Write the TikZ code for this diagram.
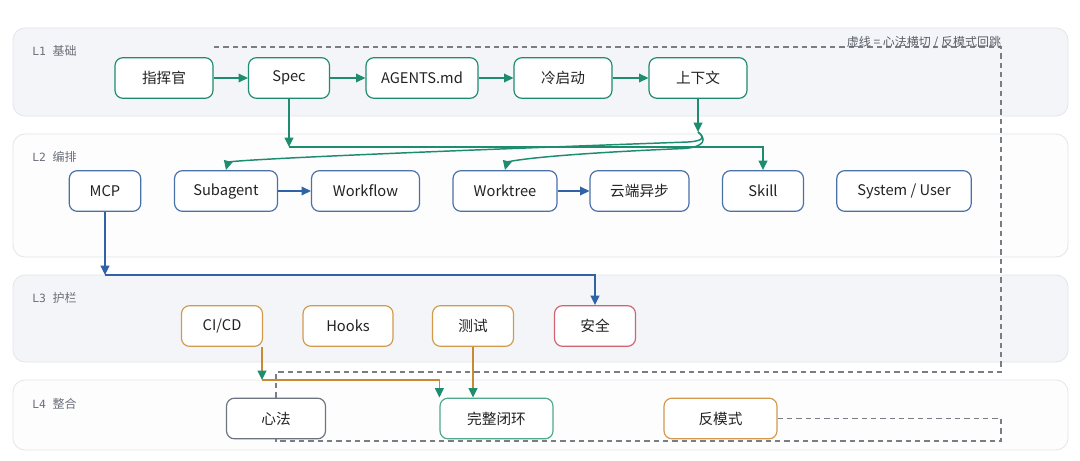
\documentclass[tikz,border=0pt]{standalone}
\usepackage{fontspec}
\setmainfont{Noto Sans CJK SC}
\newfontfamily\lanefont{DejaVu Sans Mono}
\usetikzlibrary{arrows.meta}
\definecolor{laneA}{HTML}{F3F5F8}
\definecolor{laneB}{HTML}{FDFDFE}
\definecolor{laneline}{HTML}{E2E5EA}
\definecolor{gr}{HTML}{1E8C6E}
\definecolor{bl}{HTML}{2F62A6}
\definecolor{bln}{HTML}{4A70A8}
\definecolor{og}{HTML}{C98B32}
\definecolor{ogn}{HTML}{D39A4E}
\definecolor{rd}{HTML}{D26472}
\definecolor{gy}{HTML}{6E7380}
\definecolor{gn2}{HTML}{4FAA8C}
\definecolor{dsh}{HTML}{7A7D83}
\definecolor{txt}{HTML}{222222}
\definecolor{lbl}{HTML}{6B6F78}
\definecolor{legendc}{HTML}{5A5E66}
\begin{document}
\begin{tikzpicture}[x=0.75pt,y=-0.75pt,
  lane/.style={draw=laneline, line width=0.6pt, rounded corners=9pt},
  box/.style={draw, fill=white, rounded corners=6pt, line width=0.9pt,
    minimum height=30.5pt, inner sep=0pt, text=txt,
    font=\fontsize{11}{12}\selectfont},
  wd/.style={minimum width=#1*0.75pt},
  gbox/.style={box, draw=gr},
  bbox/.style={box, draw=bln},
  obox/.style={box, draw=ogn},
  rbox/.style={box, draw=rd},
  gybox/.style={box, draw=gy},
  g2box/.style={box, draw=gn2},
  lanelabel/.style={anchor=west, text=lbl, inner sep=0pt, font=\fontsize{9}{10}\selectfont},
  arr/.style={-{Triangle[length=7pt,width=6.5pt,color=#1]}},
  gline/.style={draw=gr, line width=1.1pt},
  bline/.style={draw=bl, line width=1.1pt},
  oline/.style={draw=og, line width=1.1pt},
  dline/.style={draw=dsh, line width=0.9pt, dash pattern=on 4pt off 3pt}
]
\useasboundingbox (0,0) rectangle (1080,460);
\fill[white] (0,0) rectangle (1080,460);

% lanes
\draw[lane, fill=laneA] (13,28) rectangle (1068,116);
\draw[lane, fill=laneB] (13,134) rectangle (1068,257);
\draw[lane, fill=laneA] (13,275) rectangle (1068,362);
\draw[lane, fill=laneB] (13,380) rectangle (1068,450);

\node[lanelabel] (lab1) at (32,51) {{\lanefont\fontsize{8.5}{10}\selectfont L1}\hspace{5pt}基础};
\node[lanelabel] (lab2) at (32,157) {{\lanefont\fontsize{8.5}{10}\selectfont L2}\hspace{5pt}编排};
\node[lanelabel] (lab3) at (32,298) {{\lanefont\fontsize{8.5}{10}\selectfont L3}\hspace{5pt}护栏};
\node[lanelabel] (lab4) at (32,404) {{\lanefont\fontsize{8.5}{10}\selectfont L4}\hspace{5pt}整合};

% dashed loop bend points
\coordinate (dEnd) at (213,47);
\coordinate (dR1) at (1001,47);
\coordinate (dR2) at (1001,372);
\coordinate (dL2) at (276,372);
\coordinate (dR3) at (1001,441);
\coordinate (dL3) at (276,441);

% nodes L1
\node[gbox, wd=98] (zhi) at (164,78) {指挥官};
\node[gbox, wd=81] (spec) at (289,78) {Spec};
\node[gbox, wd=112] (agents) at (422,78) {AGENTS.md};
\node[gbox, wd=98] (leng) at (563,78) {冷启动};
\node[gbox, wd=98] (ctx) at (698,78) {上下文};

% nodes L2
\node[bbox, wd=71.5] (mcp) at (105,191) {MCP};
\node[bbox, wd=103] (sub) at (226,191) {Subagent};
\node[bbox, wd=108] (wf) at (365.5,191) {Workflow};
\node[bbox, wd=104] (wt) at (505,191) {Worktree};
\node[bbox, wd=99] (cloud) at (639.5,191) {云端异步};
\node[bbox, wd=81] (skill) at (763,191) {Skill};
\node[bbox, wd=134.5] (sys) at (904,191) {System / User};

% nodes L3
\node[obox, wd=81] (cicd) at (222,326) {CI/CD};
\node[obox, wd=90] (hooks) at (348,326) {Hooks};
\node[obox, wd=81] (test) at (473,326) {测试};
\node[rbox, wd=81] (safe) at (595,326) {安全};

% nodes L4
\node[gybox, wd=99] (xin) at (276,418.5) {心法};
\node[g2box, wd=113] (loop) at (496.5,418.5) {完整闭环};
\node[obox, wd=113] (anti) at (720.5,418.5) {反模式};

% dashed connectors
\draw[dline] (xin.north) -- (dL2) -- (dR2) -- (dR1) -- (dEnd);
\draw[dline] (anti.east) -- (anti.east -| dR3) -- (dR3) -- (dL3) -- (xin.south);
\node[text=legendc, font=\fontsize{9}{10}\selectfont, inner sep=0pt] (legend) at (924,43) {虚线 = 心法横切 / 反模式回跳};

% L1 chain
\draw[gline, arr=gr] (zhi.east) -- (spec.west);
\draw[gline, arr=gr] (spec.east) -- (agents.west);
\draw[gline, arr=gr] (agents.east) -- (leng.west);
\draw[gline, arr=gr] (leng.east) -- (ctx.west);

% Spec -> Skill
\coordinate (sc) at (289,147);
\draw[gline, arr=gr] (spec.south) -- (sc);
\draw[gline, arr=gr] (sc) -| (skill.north);

% context -> Subagent / Worktree
\coordinate (h) at (698,132);
\draw[gline, arr=gr] (ctx.south) -- (h);
\draw[gline, arr=gr] (h) .. controls (705,137) and (704,141) .. (688,142)
   .. controls (520,148) and (260,158) .. (228,162) -- (sub.north);
\draw[gline, arr=gr] (h) .. controls (707,139) and (705,147) .. (684,148.5)
   .. controls (600,152) and (530,157) .. (507,162) -- (wt.north);

% L2 blue
\draw[bline, arr=bl] (sub.east) -- (wf.west);
\draw[bline, arr=bl] (wt.east) -- (cloud.west);
\coordinate (mc) at (105,275);
\draw[bline, arr=bl] (mcp.south) -- (mc);
\draw[bline, arr=bl] (mc) -| (safe.north);

% L3 -> L4 orange
\coordinate (cs) at (262,347);
\coordinate (cc) at (262,380);
\draw[oline, arr=gr] (cs) -- (cc);
\draw[oline, arr=gr] (cc) -| (loop.north west);
\draw[oline, arr=gr] (test.south) -- (test.south |- loop.north);
\end{tikzpicture}
\end{document}
